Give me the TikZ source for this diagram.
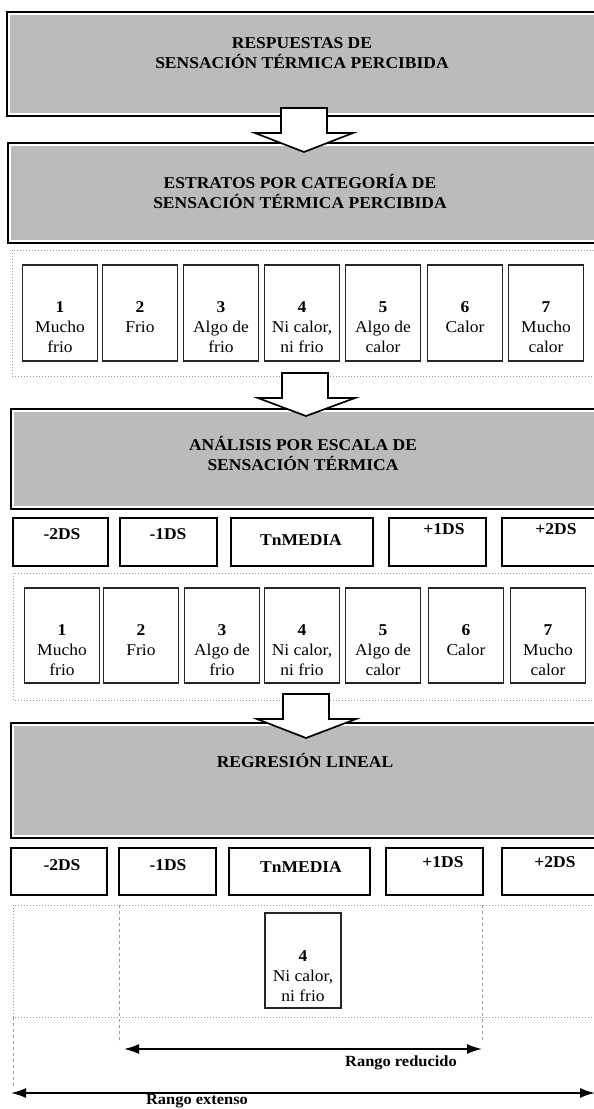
\documentclass[tikz,border=0pt]{standalone}
\usepackage{fontspec}
\setmainfont{Liberation Serif}[FakeStretch=1.06]
\usetikzlibrary{arrows.meta}
\definecolor{boxgray}{HTML}{BBBBBB}
\definecolor{dotgray}{HTML}{9A9A9A}
\begin{document}
\begin{tikzpicture}[x=1pt,y=-1pt,
  bigbox/.style={draw=black, line width=2.6pt, fill=white, inner sep=0,
    path picture={\fill[boxgray] ([shift={(2.8pt,-2.8pt)}]path picture bounding box.north west) rectangle ([shift={(-2.8pt,2.8pt)}]path picture bounding box.south east);}},
  titletext/.style={font=\fontsize{16.5}{20}\selectfont\bfseries, align=center, inner sep=0},
  catbox/.style={draw=black!85, line width=1.4pt, minimum width=75pt, inner sep=0},
  cattext/.style={font=\fontsize{16.5}{20}\selectfont, align=center, anchor=north, inner sep=0},
  dsbox/.style={draw=black, line width=2.2pt, inner sep=0},
  dstext/.style={font=\fontsize{16.5}{20}\selectfont\bfseries, inner sep=0},
  container/.style={draw=dotgray, dotted, line width=1pt},
  guideline/.style={draw=dotgray, dashed, line width=0.9pt},
  blockarrow/.style={draw=black, line width=1.7pt, fill=white, line join=miter},
  rangearrow/.style={{Latex[length=15pt,width=10pt]}-{Latex[length=15pt,width=10pt]}, line width=1.7pt},
  rangetext/.style={font=\fontsize{15.5}{18}\selectfont\bfseries, inner sep=0}
]
\path[use as bounding box] (0,0) rectangle (594,1109);
\clip (0,0) rectangle (594,1109);

% ---- big boxes
\node[bigbox, minimum width=598pt, minimum height=104pt] (A) at (306,64) {};
\node[titletext] (tA) at (302,53) {RESPUESTAS DE\\SENSACIÓN TÉRMICA PERCIBIDA};
\node[bigbox, minimum width=597pt, minimum height=100pt] (B) at (306.5,193) {};
\node[titletext] (tB) at (300,191) {ESTRATOS POR CATEGORÍA DE\\SENSACIÓN TÉRMICA PERCIBIDA};

% ---- container 1
\draw[container] (12,250) rectangle (600,376);
\foreach \i/\cx/\t in {1/60/{\textbf{1}\\Mucho\\frio},2/140/{\textbf{2}\\Frio},3/221/{\textbf{3}\\Algo de\\frio},4/302/{\textbf{4}\\Ni calor,\\ni frio},5/383/{\textbf{5}\\Algo de\\calor},6/465/{\textbf{6}\\Calor},7/546/{\textbf{7}\\Mucho\\calor}}{
  \node[catbox, minimum height=96pt] (r1c\i) at (\cx,313) {};
  \node[cattext] (r1t\i) at (\cx,301) {\t};
}

% ---- box C
\node[bigbox, minimum width=594pt, minimum height=100pt] (C) at (308,459) {};
\node[titletext] (tC) at (303,453) {ANÁLISIS POR ESCALA DE\\SENSACIÓN TÉRMICA};

% ---- DS row 1
\node[dsbox, minimum width=95pt, minimum height=48pt] (d1a) at (60.5,542) {};
\node[dsbox, minimum width=97pt, minimum height=48pt] (d1b) at (168.5,542) {};
\node[dsbox, minimum width=142pt, minimum height=48pt] (d1c) at (302,542) {};
\node[dsbox, minimum width=97pt, minimum height=48pt] (d1d) at (437.5,542) {};
\node[dsbox, minimum width=98pt, minimum height=48pt] (d1e) at (551,542) {};
\node[dstext] (l1a) at (62,534) {-2DS};
\node[dstext] (l1b) at (168,534) {-1DS};
\node[dstext] (l1c) at (301,540) {TnMEDIA};
\node[dstext] (l1d) at (444,529) {+1DS};
\node[dstext] (l1e) at (556,529) {+2DS};

% ---- container 2
\draw[container] (13,573) rectangle (600,700);
\foreach \i/\cx/\t in {1/62/{\textbf{1}\\Mucho\\frio},2/141/{\textbf{2}\\Frio},3/222/{\textbf{3}\\Algo de\\frio},4/302/{\textbf{4}\\Ni calor,\\ni frio},5/383/{\textbf{5}\\Algo de\\calor},6/466/{\textbf{6}\\Calor},7/548/{\textbf{7}\\Mucho\\calor}}{
  \node[catbox, minimum height=95pt] (r2c\i) at (\cx,635.5) {};
  \node[cattext] (r2t\i) at (\cx,624) {\t};
}

% ---- box D
\node[bigbox, minimum width=594pt, minimum height=115pt] (D) at (308,780.5) {};
\node[titletext] (tD) at (305,760) {REGRESIÓN LINEAL};

% ---- DS row 2
\node[dsbox, minimum width=96pt, minimum height=47pt] (d2a) at (59,871.5) {};
\node[dsbox, minimum width=97pt, minimum height=47pt] (d2b) at (167.5,871.5) {};
\node[dsbox, minimum width=141pt, minimum height=47pt] (d2c) at (299.5,871.5) {};
\node[dsbox, minimum width=97pt, minimum height=47pt] (d2d) at (434.5,871.5) {};
\node[dsbox, minimum width=98pt, minimum height=47pt] (d2e) at (551,871.5) {};
\node[dstext] (l2a) at (62,865) {-2DS};
\node[dstext] (l2b) at (168,865) {-1DS};
\node[dstext] (l2c) at (301,867) {TnMEDIA};
\node[dstext] (l2d) at (443,862) {+1DS};
\node[dstext] (l2e) at (555,862) {+2DS};

% ---- container 3
\draw[container] (13,905) rectangle (600,1017);
\node[catbox, minimum width=76pt, minimum height=95pt] (r3c4) at (303,960.5) {};
\node[cattext] (r3t4) at (303,950) {\textbf{4}\\Ni calor,\\ni frio};

% ---- guides
\coordinate (gL1) at (119,905); \coordinate (gL2) at (119,1043);
\coordinate (gR1) at (482,905); \coordinate (gR2) at (482,1043);
\coordinate (gX1) at (13,1017); \coordinate (gX2) at (13,1087);
\draw[guideline] (gL1) -- (gL2);
\draw[guideline] (gR1) -- (gR2);
\draw[guideline] (gX1) -- (gX2);

% ---- range arrows
\coordinate (rr1) at (124,1049); \coordinate (rr2) at (482,1049);
\coordinate (re1) at (11,1093); \coordinate (re2) at (595,1093);
\draw[rangearrow] (rr1) -- (rr2);
\draw[rangearrow] (re1) -- (re2);
\node[rangetext] (lr) at (401,1063) {Rango reducido};
\node[rangetext] (le) at (197,1101) {Rango extenso};

% ---- block arrows
\draw[blockarrow] (281,108) -- (327,108) -- (327,133) -- (353,133) -- (304,152) -- (255,133) -- (281,133) -- cycle;
\draw[blockarrow] (282,373) -- (328,373) -- (328,398) -- (355,398) -- (306,416) -- (258,398) -- (282,398) -- cycle;
\draw[blockarrow] (283,694) -- (329,694) -- (329,719) -- (356,719) -- (306,738) -- (257,719) -- (283,719) -- cycle;
\end{tikzpicture}
\end{document}
